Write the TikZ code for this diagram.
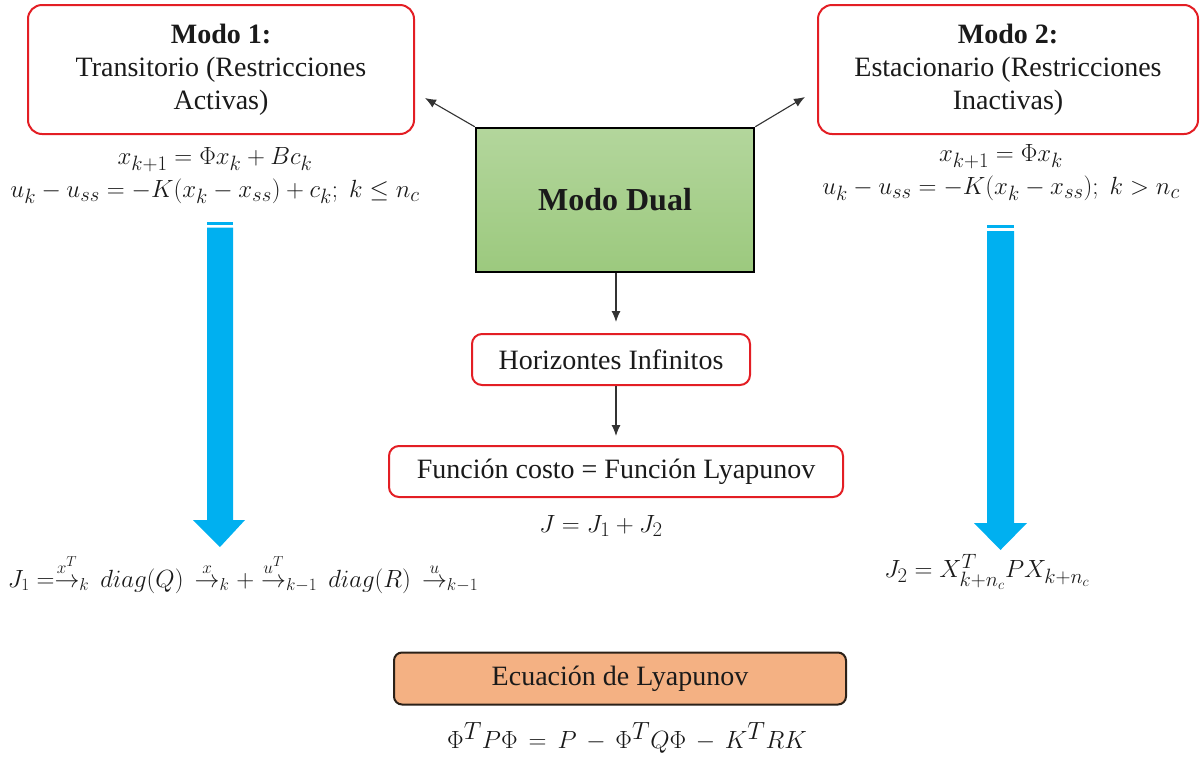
\documentclass[tikz,border=0pt]{standalone}
\usepackage{amsmath}
\usepackage{fontspec}
\setmainfont{Liberation Serif}
\usetikzlibrary{arrows.meta}
\definecolor{redb}{HTML}{E31E24}
\definecolor{blueA}{HTML}{00B0F0}
\definecolor{greenT}{HTML}{B3D69C}
\definecolor{greenB}{HTML}{9CC97E}
\definecolor{orangeF}{HTML}{F4B183}
\definecolor{darkB}{HTML}{2B2118}
\definecolor{txt}{HTML}{1A1A1A}
\definecolor{conn}{HTML}{333333}
\tikzset{
  redbox/.style={draw=redb, line width=2pt, rounded corners=14pt, fill=white, align=center, text=txt, inner sep=0pt},
  dualbox/.style={draw=black, line width=2.5pt, top color=greenT, bottom color=greenB, text=txt, inner sep=0pt},
  orbox/.style={draw=darkB, line width=2pt, rounded corners=8pt, fill=orangeF, text=txt, inner sep=0pt},
  conarrow/.style={draw=conn, line width=1.1pt, -{Latex[length=11pt,width=9pt]}},
  eqtext/.style={align=center, text=txt, inner sep=0pt},
  bigarrow/.style={fill=blueA, draw=none},
  txtfont/.style={font=\fontsize{28}{33}\selectfont},
  mathfont/.style={font=\fontsize{27.5}{33}\selectfont},
}
\begin{document}
\begin{tikzpicture}[x=1pt,y=-1pt]
\useasboundingbox (0,0) rectangle (1204,764);
% boxes
\node[redbox, txtfont, minimum width=386pt, minimum height=129pt] (m1) at (221,69.5)
  {\textbf{Modo 1:}\\Transitorio (Restricciones\\Activas)};
\node[redbox, txtfont, minimum width=380pt, minimum height=129pt] (m2) at (1008,69.5)
  {\textbf{Modo 2:}\\Estacionario (Restricciones\\Inactivas)};
\node[dualbox, minimum width=278pt, minimum height=144pt, font=\fontsize{32}{36}\selectfont\bfseries] (dual) at (615,200) {Modo Dual};
\node[redbox, txtfont, rounded corners=10pt, minimum width=278pt, minimum height=51pt] (hor) at (611,359.5) {Horizontes Infinitos};
\node[redbox, txtfont, rounded corners=10pt, minimum width=454pt, minimum height=51pt] (fun) at (616,471.5) {Función costo = Función Lyapunov};
\node[orbox, txtfont, minimum width=452pt, minimum height=52pt] (ecu) at (620,678.5) {Ecuación de Lyapunov};
% equations
\node[eqtext, mathfont] (eq1) at (215,176)
  {$x_{k+1} = \Phi x_k + B c_k$\\$u_k - u_{ss} = -K(x_k - x_{ss}) + c_k;\ k \le n_c$};
\node[eqtext, mathfont] (eq2) at (1001,173)
  {$x_{k+1} = \Phi x_k$\\$u_k - u_{ss} = -K(x_k - x_{ss});\ k > n_c$};
\node[eqtext, mathfont] (jsum) at (601,526) {$J = J_1 + J_2$};
\node[eqtext, font=\fontsize{26.5}{33}\selectfont] (j1) at (243,574)
  {$J_1 = \overset{x^{T}}{\rightarrow}_{k}\, diag(Q)\, \overset{x}{\rightarrow}_{k} + \overset{u^{T}}{\rightarrow}_{k-1}\, diag(R)\, \overset{u}{\rightarrow}_{k-1}$};
\node[eqtext, mathfont] (j2) at (987,572) {$J_2 = X_{k+n_c}^{T} P X_{k+n_c}$};
\node[eqtext, font=\fontsize{40}{44}\selectfont] (lyap) at (627,738)
  {$\Phi^{T} P \Phi \mathrel{\,=\,} P \mathbin{\,-\,} \Phi^{T} Q \Phi \mathbin{\,-\,} K^{T} R K$};
% connectors
\coordinate (t1) at (425,98);
\coordinate (t2) at (805,97);
\draw[conarrow] (dual.north west) -- (t1);
\draw[conarrow] (dual.north east) -- (t2);
\draw[conarrow, shorten >=11pt] (dual.south -| 616,0) -- (hor.north -| 616,0);
\draw[conarrow, shorten >=9pt] (hor.south -| 616,0) -- (fun.north -| 616,0);
% big blue arrows
\fill[bigarrow] (207,222) rectangle (233,224.5);
\fill[bigarrow] (207,227.5) -- (233,227.5) -- (233,520) -- (245,520) -- (220,547) -- (193,520) -- (207,520) -- cycle;
\fill[bigarrow] (987,225) rectangle (1014,227.5);
\fill[bigarrow] (987,231) -- (1014,231) -- (1014,523) -- (1027,523) -- (1000.5,550) -- (974,523) -- (987,523) -- cycle;
\end{tikzpicture}
\end{document}
